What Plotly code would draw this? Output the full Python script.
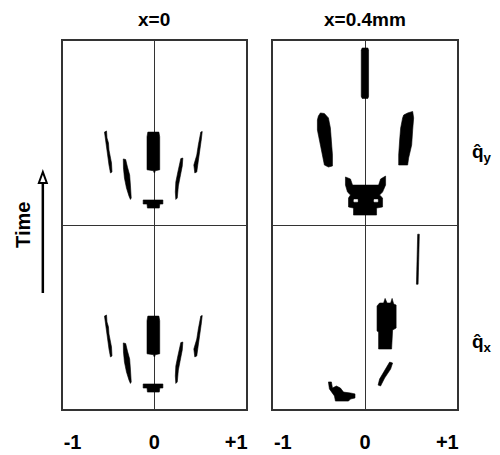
import plotly.graph_objects as go

# ---- data (x in q units, y: time within panel; top sub-panel 0..1, bottom -1..0) ----
panel_titles = ["x=0", "x=0.4mm"]
tick_vals = [-1, 0, 1]
tick_text = ["-1", "0", "+1"]
row_labels = ["q&#770;<sub>y</sub>", "q&#770;<sub>x</sub>"]

# Left panel (x=0): same pattern in both sub-panels (y relative to sub-panel, 0..1)
L_center_x = [-0.09, -0.08, 0.055, 0.065, 0.065, 0.01, 0.005, -0.005, -0.01, -0.09]
L_center_y = [0.48, 0.505, 0.505, 0.48, 0.30, 0.295, 0.285, 0.285, 0.295, 0.30]
L_tee_x = [-0.137, 0.104, 0.104, 0.067, 0.06, -0.085, -0.09, -0.137]
L_tee_y = [0.136, 0.136, 0.114, 0.114, 0.092, 0.092, 0.114, 0.114]
L_outerL_x = [-0.610, -0.585, -0.579, -0.561, -0.555, -0.543, -0.524, -0.518, -0.537, -0.555, -0.567, -0.579, -0.591, -0.604]
L_outerL_y = [0.505, 0.511, 0.473, 0.446, 0.408, 0.375, 0.337, 0.288, 0.283, 0.326, 0.364, 0.397, 0.435, 0.473]
L_innerL_x = [-0.380, -0.351, -0.329, -0.302, -0.293, -0.283, -0.293, -0.311, -0.341, -0.366, -0.378]
L_innerL_y = [0.359, 0.356, 0.315, 0.272, 0.217, 0.147, 0.139, 0.158, 0.201, 0.255, 0.310]
L_innerR_x = [0.323, 0.348, 0.341, 0.323, 0.293, 0.280, 0.262, 0.256, 0.262, 0.287, 0.311]
L_innerR_y = [0.361, 0.364, 0.321, 0.272, 0.212, 0.147, 0.139, 0.179, 0.234, 0.288, 0.332]
L_outerR_x = [0.567, 0.585, 0.573, 0.555, 0.549, 0.537, 0.518, 0.494, 0.482, 0.500, 0.518, 0.537, 0.555]
L_outerR_y = [0.505, 0.508, 0.462, 0.408, 0.370, 0.337, 0.288, 0.283, 0.326, 0.353, 0.380, 0.435, 0.473]
left_blobs = [(L_center_x, L_center_y), (L_tee_x, L_tee_y), (L_outerL_x, L_outerL_y),
              (L_innerL_x, L_innerL_y), (L_innerR_x, L_innerR_y), (L_outerR_x, L_outerR_y)]
left_offsets = [0, -1]

# Right panel (x=0.4mm), top sub-panel (q_y)
R_bar_x = [-0.046, -0.035, 0.035, 0.043, 0.043, 0.035, -0.035, -0.046]
R_bar_y = [0.95, 0.962, 0.962, 0.95, 0.70, 0.688, 0.688, 0.70]
R_left_x = [-0.567, -0.543, -0.494, -0.445, -0.421, -0.409, -0.396, -0.396, -0.445, -0.494, -0.518, -0.543, -0.579, -0.579]
R_left_y = [0.592, 0.609, 0.606, 0.582, 0.527, 0.462, 0.380, 0.321, 0.315, 0.326, 0.380, 0.451, 0.516, 0.571]
R_right_x = [0.470, 0.518, 0.579, 0.591, 0.579, 0.567, 0.530, 0.518, 0.409, 0.409, 0.421, 0.433, 0.457]
R_right_y = [0.598, 0.609, 0.617, 0.582, 0.516, 0.435, 0.364, 0.326, 0.326, 0.380, 0.462, 0.527, 0.582]
R_bowl_x = [-0.238, -0.177, -0.152, 0.165, 0.189, 0.250, 0.250, 0.213, 0.177, 0.213, 0.213, 0.140, 0.140,
            -0.140, -0.140, -0.201, -0.201, -0.177, -0.213, -0.238]
R_bowl_y = [0.261, 0.250, 0.217, 0.217, 0.250, 0.266, 0.217, 0.179, 0.163, 0.147, 0.098, 0.092, 0.054,
            0.054, 0.092, 0.098, 0.147, 0.163, 0.179, 0.217]
R_hole1_x = [-0.135, -0.090, -0.090, -0.135]
R_hole1_y = [0.138, 0.138, 0.126, 0.126]
R_hole2_x = [0.110, 0.155, 0.155, 0.110]
R_hole2_y = [0.138, 0.138, 0.126, 0.126]

# Right panel, bottom sub-panel (q_x)
R_line_x = [0.640, 0.660, 0.652, 0.645, 0.625, 0.632]
R_line_y = [-0.050, -0.050, -0.200, -0.322, -0.322, -0.200]
R_mid_x = [0.146, 0.177, 0.226, 0.244, 0.268, 0.311, 0.329, 0.348, 0.378, 0.378, 0.335, 0.323, 0.165, 0.165, 0.146]
R_mid_y = [-0.440, -0.424, -0.424, -0.399, -0.424, -0.424, -0.399, -0.429, -0.435, -0.560, -0.571, -0.674, -0.674, -0.582, -0.576]
R_diag_x = [0.299, 0.335, 0.311, 0.238, 0.189, 0.159, 0.177, 0.238]
R_diag_y = [-0.745, -0.750, -0.783, -0.832, -0.875, -0.870, -0.837, -0.793]
R_low_x = [-0.445, -0.409, -0.396, -0.348, -0.299, -0.262, -0.177, -0.122, -0.122, -0.177, -0.201, -0.360, -0.372, -0.433]
R_low_y = [-0.853, -0.853, -0.886, -0.875, -0.886, -0.908, -0.913, -0.918, -0.940, -0.946, -0.957, -0.957, -0.929, -0.891]
right_blobs = [(R_bar_x, R_bar_y), (R_left_x, R_left_y), (R_right_x, R_right_y), (R_bowl_x, R_bowl_y),
               (R_line_x, R_line_y), (R_mid_x, R_mid_y), (R_diag_x, R_diag_y), (R_low_x, R_low_y)]
right_holes = [(R_hole1_x, R_hole1_y), (R_hole2_x, R_hole2_y)]

# ---- figure ----
fig = go.Figure()

def add_poly(xs, ys, xa, ya, color="black"):
    fig.add_trace(go.Scatter(x=list(xs) + [xs[0]], y=list(ys) + [ys[0]], mode="lines",
                             fill="toself", fillcolor=color, line=dict(color=color, width=0.6),
                             xaxis=xa, yaxis=ya, hoverinfo="skip", showlegend=False))

for off in left_offsets:
    for xs, ys in left_blobs:
        add_poly(xs, [v + off for v in ys], "x", "y")
for xs, ys in right_blobs:
    add_poly(xs, ys, "x2", "y2")
for xs, ys in right_holes:
    add_poly(xs, ys, "x2", "y2", color="white")

W, H = 500, 455
font = "Liberation Sans, Arial, sans-serif"
axis_common = dict(range=[-1.12, 1.12], showgrid=False, zeroline=True, zerolinecolor="#333",
                   zerolinewidth=1, showline=True, linecolor="#333", linewidth=1.5, mirror=True,
                   tickvals=tick_vals, ticktext=["<b>%s</b>" % t for t in tick_text], ticks="",
                   ticklabelstandoff=14,
                   tickfont=dict(family=font, size=20, color="black"), fixedrange=True)
yaxis_common = dict(range=[-1, 1], showgrid=False, zeroline=True, zerolinecolor="#333",
                    zerolinewidth=1, showline=True, linecolor="#333", linewidth=1.5, mirror=True,
                    showticklabels=False, ticks="", fixedrange=True)

top_px, bot_px = 41, 409
fig.update_layout(
    width=W, height=H, margin=dict(l=0, r=0, t=0, b=0),
    paper_bgcolor="white", plot_bgcolor="white",
    xaxis=dict(domain=[63 / W, 247 / W], anchor="y", **axis_common),
    xaxis2=dict(domain=[274 / W, 459 / W], anchor="y2", **axis_common),
    yaxis=dict(domain=[1 - bot_px / H, 1 - top_px / H], anchor="x", **yaxis_common),
    yaxis2=dict(domain=[1 - bot_px / H, 1 - top_px / H], anchor="x2", **yaxis_common),
)

ann = []
for i, t in enumerate(panel_titles):
    ann.append(dict(text="<b>%s</b>" % t, x=0, y=1 - 20 / H, xref="x" if i == 0 else "x2",
                    yref="paper", showarrow=False, font=dict(family=font, size=19, color="black"),
                    xanchor="center", yanchor="middle"))
ann.append(dict(text="<b>Time</b>", x=23 / W, y=1 - 225 / H, xref="paper", yref="paper",
                textangle=-90, showarrow=False, font=dict(family=font, size=20, color="black"),
                xanchor="center", yanchor="middle"))
for lab, py in zip(row_labels, [153, 343]):
    ann.append(dict(text="<b>%s</b>" % lab, x=484 / W, y=1 - py / H, xref="paper", yref="paper",
                    showarrow=False, font=dict(family=font, size=19, color="black"),
                    xanchor="center", yanchor="middle"))
fig.update_layout(annotations=ann)

# time arrow (decoration, paper coordinates)
ax = 43 / W
fig.add_shape(type="line", xref="paper", yref="paper", x0=ax, x1=ax, y0=1 - 293 / H, y1=1 - 182 / H,
              line=dict(color="black", width=2.5))
tip, base, hw = 1 - 172 / H, 1 - 183 / H, 4 / W
fig.add_shape(type="path", xref="paper", yref="paper",
              path=f"M {ax} {tip} L {ax - hw} {base} L {ax + hw} {base} Z",
              fillcolor="white", line=dict(color="black", width=2))

fig.write_html("out.html")
